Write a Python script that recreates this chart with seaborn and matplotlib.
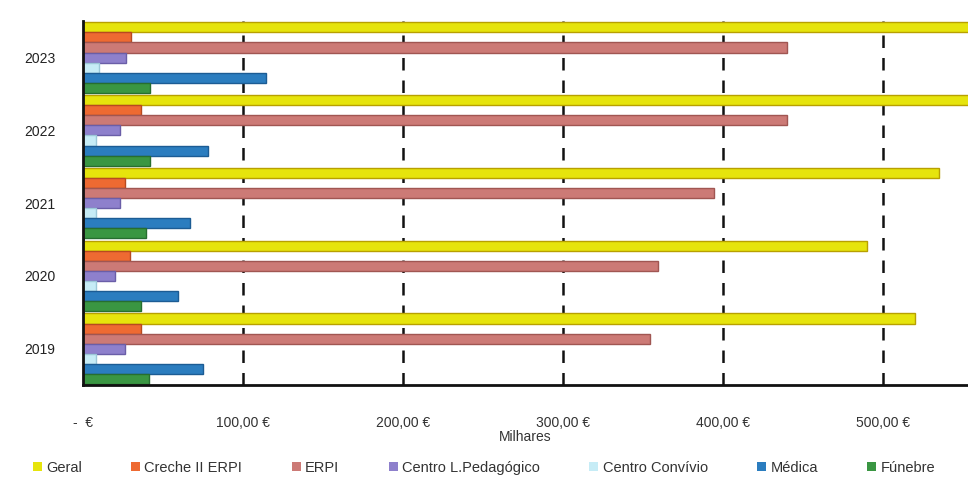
import pandas as pd
import matplotlib.pyplot as plt
import seaborn as sns
from matplotlib.patches import Patch
from matplotlib.ticker import FuncFormatter

# --- data (thousands of €) ---
years = ["2023", "2022", "2021", "2020", "2019"]
series = ["Geral", "Creche II ERPI", "ERPI", "Centro L.Pedagógico",
          "Centro Convívio", "Médica", "Fúnebre"]
geral = [575, 580, 535, 490, 520]
creche = [30, 36, 26, 29, 36]
erpi = [440, 440, 394, 359, 354]
centro_lp = [27, 23, 23, 20, 26]
centro_conv = [10, 8, 8, 8, 8]
medica = [114, 78, 67, 59, 75]
funebre = [42, 42, 39, 36, 41]
x_ticks = [0, 100, 200, 300, 400, 500]

colors = ["#e6e40c", "#ee6a32", "#cc7a76", "#8e80cc", "#c6ecf6", "#2b7dbf", "#3a9642"]
edges = ["#b8a000", "#b84a20", "#a05652", "#6a5ea8", "#9cc8d8", "#1c5c94", "#276e30"]


def main():
    rows = []
    for name, vals in zip(series, [geral, creche, erpi, centro_lp, centro_conv, medica, funebre]):
        for y, v in zip(years, vals):
            rows.append({"ano": y, "serie": name, "valor": v})
    df = pd.DataFrame(rows)

    sns.set_theme(style="white")
    plt.rcParams["font.family"] = ["Liberation Sans", "DejaVu Sans"]

    fig = plt.figure(figsize=(9.68, 4.82), dpi=100)
    ax = fig.add_axes([0.086, 0.201, 0.914, 0.755])

    sns.barplot(data=df, y="ano", x="valor", hue="serie", order=years,
                hue_order=series, palette=colors, saturation=1, orient="h",
                width=0.97, ax=ax, legend=False)

    # darker outlines to mimic the bevelled bars
    for cont, ec in zip(ax.containers, edges):
        for bar in cont:
            bar.set_edgecolor(ec)
            bar.set_linewidth(1.0)

    ax.set_xlim(0, 553)
    ax.set_xticks(x_ticks)
    ax.xaxis.set_major_formatter(FuncFormatter(
        lambda v, p: "-  €" if v == 0 else f"{v:.2f}".replace(".", ",") + " €"))
    ax.tick_params(axis="x", labelsize=10, colors="#333333", pad=20, length=5,
                   direction="inout", width=1.2)
    ax.tick_params(axis="y", labelsize=10, colors="#222222", pad=20, length=0)
    ax.set_ylim(4.5, -0.5)
    ax.set_yticks([-0.5, 0.5, 1.5, 2.5, 3.5, 4.5], minor=True)
    ax.tick_params(axis="y", which="minor", length=5, width=1.2, direction="out", color="#111111")

    ax.grid(axis="x", color="#111111", linestyle=(0, (5, 4)), linewidth=1.8)
    ax.set_axisbelow(True)

    for side in ["top", "right"]:
        ax.spines[side].set_visible(False)
    ax.spines["left"].set_color("#111111")
    ax.spines["left"].set_linewidth(2)
    ax.spines["bottom"].set_color("#111111")
    ax.spines["bottom"].set_linewidth(2)

    ax.set_ylabel("")
    ax.set_xlabel("Milhares", fontsize=10, color="#333333", labelpad=0)

    handles = [Patch(facecolor=c, edgecolor="none") for c in colors]
    fig.legend(handles, series, loc="lower center", ncol=7, frameon=False,
               fontsize=10.5, handlelength=0.6, handleheight=0.6, handletextpad=0.3,
               columnspacing=3.4, bbox_to_anchor=(0.5, -0.012), labelcolor="#333333")

    fig.savefig("out.png", dpi=100)


if __name__ == "__main__":
    main()
